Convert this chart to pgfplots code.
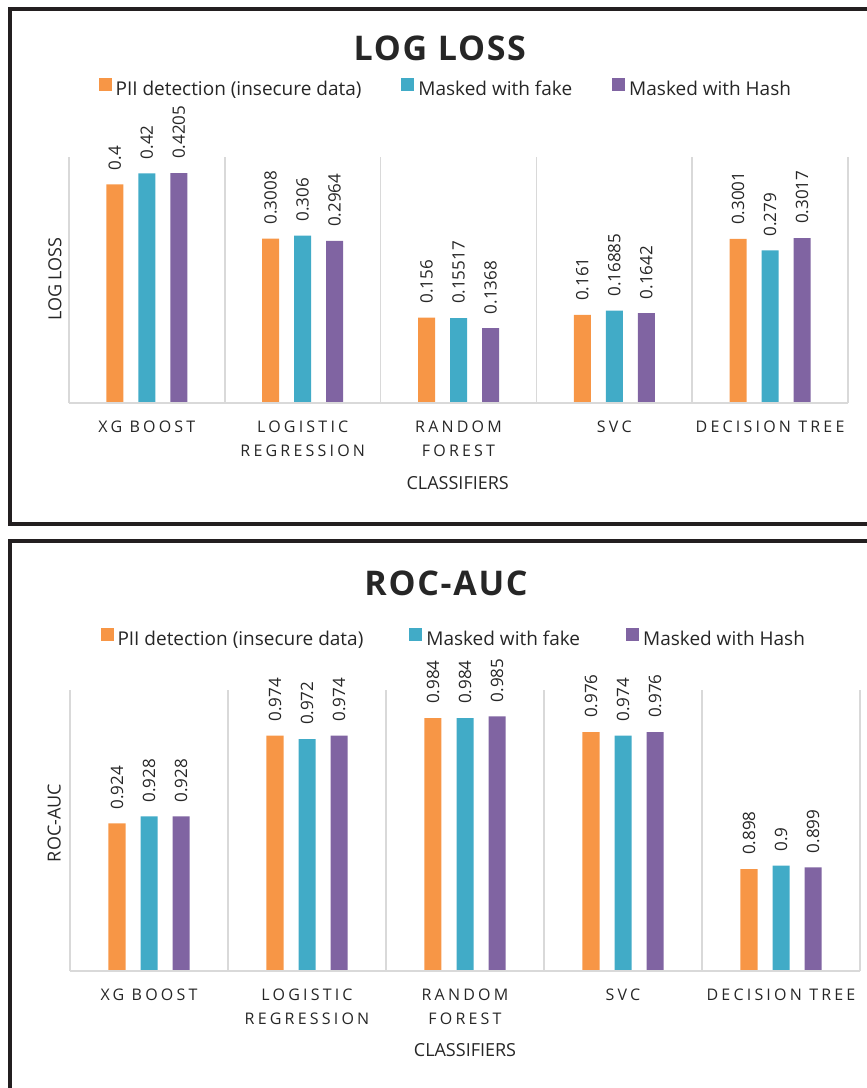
\documentclass[border=0pt]{standalone}
\usepackage{fontspec}
\setmainfont{Open Sans}
\newfontfamily\tickfont{Open Sans}[LetterSpace=20]
\newfontfamily\titlefont{Open Sans}[LetterSpace=5]
\usepackage{pgfplots}
\pgfplotsset{compat=1.18}

\definecolor{barorange}{HTML}{F79646}
\definecolor{barteal}{HTML}{41ABC7}
\definecolor{barpurple}{HTML}{8064A2}
\definecolor{gridgray}{HTML}{D9D9D9}
\definecolor{framedark}{HTML}{231F20}
\definecolor{textdark}{HTML}{262626}

\pgfplotsset{
  sq legend/.style={
    legend image code/.code={\fill[##1] (0pt,-2pt) rectangle (13pt,11pt);}},
  clfbars/.style={
    scale only axis,
    xmin=-0.5, xmax=4.5,
    xtick={0,1,2,3,4},
    xticklabels={XG BOOST, LOGISTIC\\REGRESSION, RANDOM\\FOREST, SVC, DECISION TREE},
    minor xtick={-0.5,0.5,1.5,2.5,3.5,4.5},
    xminorgrids,
    minor grid style={gridgray, line width=1.6pt},
    major tick length=0pt, minor tick length=0pt,
    ytick=\empty,
    axis line style={draw=none},
    xticklabel style={font=\tickfont\fontsize{16}{24}\selectfont, align=center,
      text=textdark, anchor=north, inner sep=0pt, yshift=-18pt},
    ybar=15pt, bar width=17pt,
    point meta=explicit symbolic,
    nodes near coords={\pgfplotspointmeta},
    every node near coord/.append style={rotate=90, anchor=west, inner xsep=14pt,
      inner ysep=0pt, font=\fontsize{17}{20}\selectfont, text=textdark},
    legend columns=3,
    legend cell align=left,
    title style={font=\titlefont\bfseries\fontsize{34}{40}\selectfont,
      text=textdark, anchor=center},
    xlabel={CLASSIFIERS},
    label style={font=\fontsize{18}{22}\selectfont, text=textdark},
  },
}

\begin{document}
\begin{tikzpicture}
\useasboundingbox (0pt,0pt) rectangle (867pt,-1088pt);
\clip (0pt,0pt) rectangle (867pt,-1088pt);

% panel frames
\draw[framedark, line width=4.5pt] (9.8pt,-9pt) rectangle (890pt,-524pt);
\draw[framedark, line width=4.5pt] (9.8pt,-541pt) rectangle (890pt,-1110pt);

% ---------- LOG LOSS ----------
\begin{axis}[clfbars,
  at={(69pt,-403pt)}, anchor=south west,
  width=779pt, height=246pt,
  ymin=0, ymax=0.45,
  title={LOG LOSS}, title style={at={(0.476,1.4187)}},
  ylabel={LOG LOSS}, ylabel style={at={(-0.018,0.504)}, anchor=center},
  xlabel style={at={(0.499,-0.325)}, anchor=center},
  legend style={at={(0.485,1.2805)}, anchor=center, draw=none, fill=none,
    inner sep=0pt, column sep=0pt, font=\fontsize{19}{23}\selectfont,
    text=textdark, nodes={inner xsep=4pt, inner ysep=1pt},
    /tikz/every even column/.append style={column sep=36pt}},
]
\addplot[fill=barorange, draw=none, sq legend] coordinates {
  (0,0.4)[0.4] (1,0.3008)[0.3008] (2,0.156)[0.156] (3,0.161)[0.161] (4,0.3001)[0.3001]};
\addplot[fill=barteal, draw=none, sq legend] coordinates {
  (0,0.42)[0.42] (1,0.306)[0.306] (2,0.15517)[0.15517] (3,0.16885)[0.16885] (4,0.279)[0.279]};
\addplot[fill=barpurple, draw=none, sq legend] coordinates {
  (0,0.4205)[0.4205] (1,0.2964)[0.2964] (2,0.1368)[0.1368] (3,0.1642)[0.1642] (4,0.3017)[0.3017]};
\legend{PII detection (insecure data), Masked with fake, Masked with Hash}
\draw[gridgray, line width=2pt] (rel axis cs:0,0) -- (rel axis cs:1,0);
\end{axis}

% ---------- ROC-AUC ----------
\begin{axis}[clfbars,
  at={(70pt,-971pt)}, anchor=south west,
  width=790pt, height=281pt,
  ymin=0.84, ymax=1.0,
  title={ROC-AUC}, title style={at={(0.476,1.359)}},
  ylabel={ROC-AUC}, ylabel style={at={(-0.020,0.527)}, anchor=center},
  xlabel style={at={(0.5,-0.281)}, anchor=center},
  legend style={at={(0.487,1.185)}, anchor=center, draw=none, fill=none,
    inner sep=0pt, column sep=0pt, font=\fontsize{19}{23}\selectfont,
    text=textdark, nodes={inner xsep=4pt, inner ysep=1pt},
    /tikz/every even column/.append style={column sep=42pt}},
]
\addplot[fill=barorange, draw=none, sq legend] coordinates {
  (0,0.924)[0.924] (1,0.974)[0.974] (2,0.984)[0.984] (3,0.976)[0.976] (4,0.898)[0.898]};
\addplot[fill=barteal, draw=none, sq legend] coordinates {
  (0,0.928)[0.928] (1,0.972)[0.972] (2,0.984)[0.984] (3,0.974)[0.974] (4,0.9)[0.9]};
\addplot[fill=barpurple, draw=none, sq legend] coordinates {
  (0,0.928)[0.928] (1,0.974)[0.974] (2,0.985)[0.985] (3,0.976)[0.976] (4,0.899)[0.899]};
\legend{PII detection (insecure data), Masked with fake, Masked with Hash}
\draw[gridgray, line width=2pt] (rel axis cs:0,0) -- (rel axis cs:1,0);
\end{axis}
\end{tikzpicture}
\end{document}
